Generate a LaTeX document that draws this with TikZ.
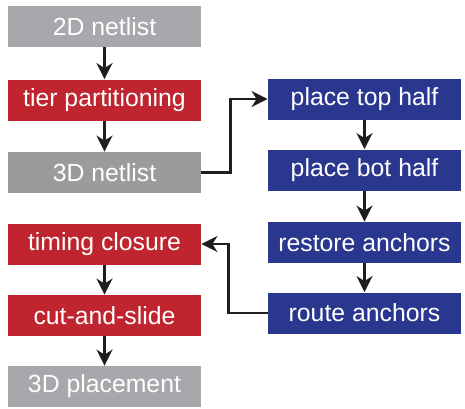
\documentclass[tikz,border=0pt]{standalone}
\usepackage{fontspec}
\setmainfont{Liberation Sans}
\usetikzlibrary{arrows.meta}
\definecolor{boxgray}{RGB}{167,168,171}
\definecolor{boxgrayd}{RGB}{155,155,156}
\definecolor{boxred}{RGB}{192,36,46}
\definecolor{boxblue}{RGB}{42,55,142}
\definecolor{linedark}{RGB}{30,30,30}
\tikzset{
  stage/.style={minimum width=96.5pt,minimum height=20.5pt,inner sep=0pt,
    text=white,font=\fontsize{12.4}{14}\selectfont},
  arr/.style={draw=linedark,line width=1.3pt,
    -{Stealth[length=8pt,width=8pt,inset=2.5pt]}}
}
\begin{document}
\begin{tikzpicture}[x=0.5pt,y=-0.5pt]
\useasboundingbox (0,0) rectangle (465,408);
% left column
\node[stage,fill=boxgray] (net2d) at (104.5,26.5) {2D netlist};
\node[stage,fill=boxred] (tierpart) at (104.5,100) {tier partitioning};
\node[stage,fill=boxgrayd] (net3d) at (104.5,172.5) {3D netlist};
\node[stage,fill=boxred] (timing) at (104.5,244) {timing closure};
\node[stage,fill=boxred] (cutslide) at (104.5,315.5) {cut-and-slide};
\node[stage,fill=boxgray] (place3d) at (104.5,386.5) {3D placement};
% right column
\node[stage,fill=boxblue] (tophalf) at (364.5,99) {place top half};
\node[stage,fill=boxblue] (bothalf) at (364.5,170) {place bot half};
\node[stage,fill=boxblue] (restore) at (364.5,242.5) {restore anchors};
\node[stage,fill=boxblue] (route) at (364.5,313) {route anchors};
% flow
\draw[arr] (net2d) -- (tierpart);
\draw[arr] (tierpart) -- (net3d);
\draw[arr] (net3d.east) -- ++(29,0) |- (tophalf.west);
\draw[arr] (tophalf) -- (bothalf);
\draw[arr] (bothalf) -- (restore);
\draw[arr] (restore) -- (route);
\draw[arr] (route.west) -- ++(-39,0) |- (timing.east);
\draw[arr] (timing) -- (cutslide);
\draw[arr] (cutslide) -- (place3d);
\end{tikzpicture}
\end{document}
